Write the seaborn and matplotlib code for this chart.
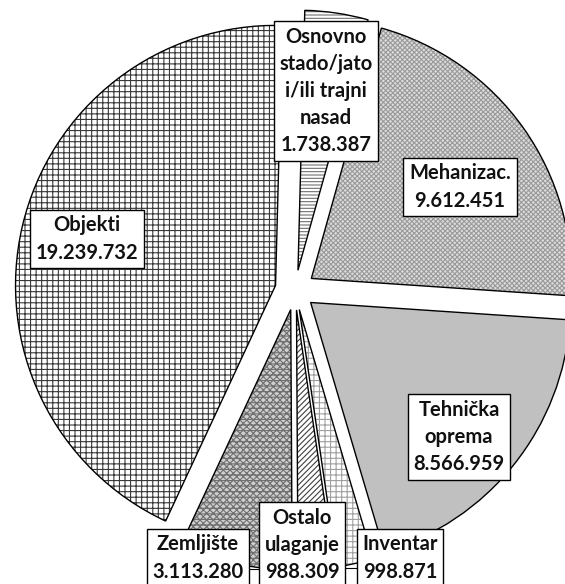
import matplotlib
matplotlib.use("Agg")
import matplotlib.pyplot as plt
import seaborn as sns

# ---- data ----
categories = ["Osnovno\nstado/jato\ni/ili trajni\nnasad", "Mehanizac.", "Tehnička\noprema",
              "Inventar", "Ostalo\nulaganje", "Zemljište", "Objekti"]
values = [1738387, 9612451, 8566959, 998871, 988309, 3113280, 19239732]

# ---- styles ----
face_colors = ["#ffffff", "#dcdcdc", "#c0c0c0", "#ffffff", "#ffffff", "#cfcfcf", "#ffffff"]
hatches = ["-----", "xxxxxxx", None, "+++", "//////", "xxxxx---", "+++"]
hatch_colors = ["#707070", "#9a9a9a", "#c0c0c0", "#a0a0a0", "#404040", "#707070", "#383838"]
# label box centres (pixel coordinates, y from top)
label_pos = [(326, 91), (460, 187), (459, 437), (400, 558), (302, 545), (198, 558), (87, 239)]

W, H = 565, 584
sns.set_theme(style="white")
plt.rcParams["font.family"] = ["Lato", "DejaVu Sans"]
plt.rcParams["hatch.linewidth"] = 0.8

fig = plt.figure(figsize=(W / 100, H / 100), dpi=100)
ax = fig.add_axes([0, 0, 1, 1])

center = (295, H - 290)
radius = 260
explode = [20] * len(values)
common = dict(startangle=88.5, counterclock=False, center=center, radius=radius,
              explode=explode, frame=False)

fills, _ = ax.pie(values, colors=face_colors, wedgeprops=dict(linewidth=0), **common)
hw, _ = ax.pie(values, colors=["none"] * len(values), wedgeprops=dict(linewidth=0), **common)
for w, h, c in zip(hw, hatches, hatch_colors):
    w.set_facecolor("none")
    w.set_edgecolor(c)
    w.set_linewidth(0)
    if h:
        w.set_hatch(h)
    w.set_zorder(2)
ew, _ = ax.pie(values, colors=["none"] * len(values),
               wedgeprops=dict(edgecolor="black", linewidth=1.0, facecolor="none"), **common)
for w in ew:
    w.set_facecolor("none")
    w.set_zorder(3)

# short leader ticks between the bottom label boxes
ax.plot([248, 260], [H - 569, H - 569], color="black", lw=0.8, zorder=4)
ax.plot([345, 358], [H - 568, H - 568], color="black", lw=0.8, zorder=4)

for cat, v, (px, py) in zip(categories, values, label_pos):
    txt = cat + "\n" + f"{v:,}".replace(",", ".")
    ax.text(px, H - py, txt, ha="center", va="center", fontsize=14.5, fontweight="bold",
            linespacing=1.45, color="#111111", zorder=5,
            bbox=dict(boxstyle="square,pad=0.28", fc="white", ec="black", lw=1.0))

ax.set_xlim(0, W)
ax.set_ylim(0, H)
ax.set_aspect("equal")
ax.axis("off")
fig.savefig("out.png", dpi=100)
